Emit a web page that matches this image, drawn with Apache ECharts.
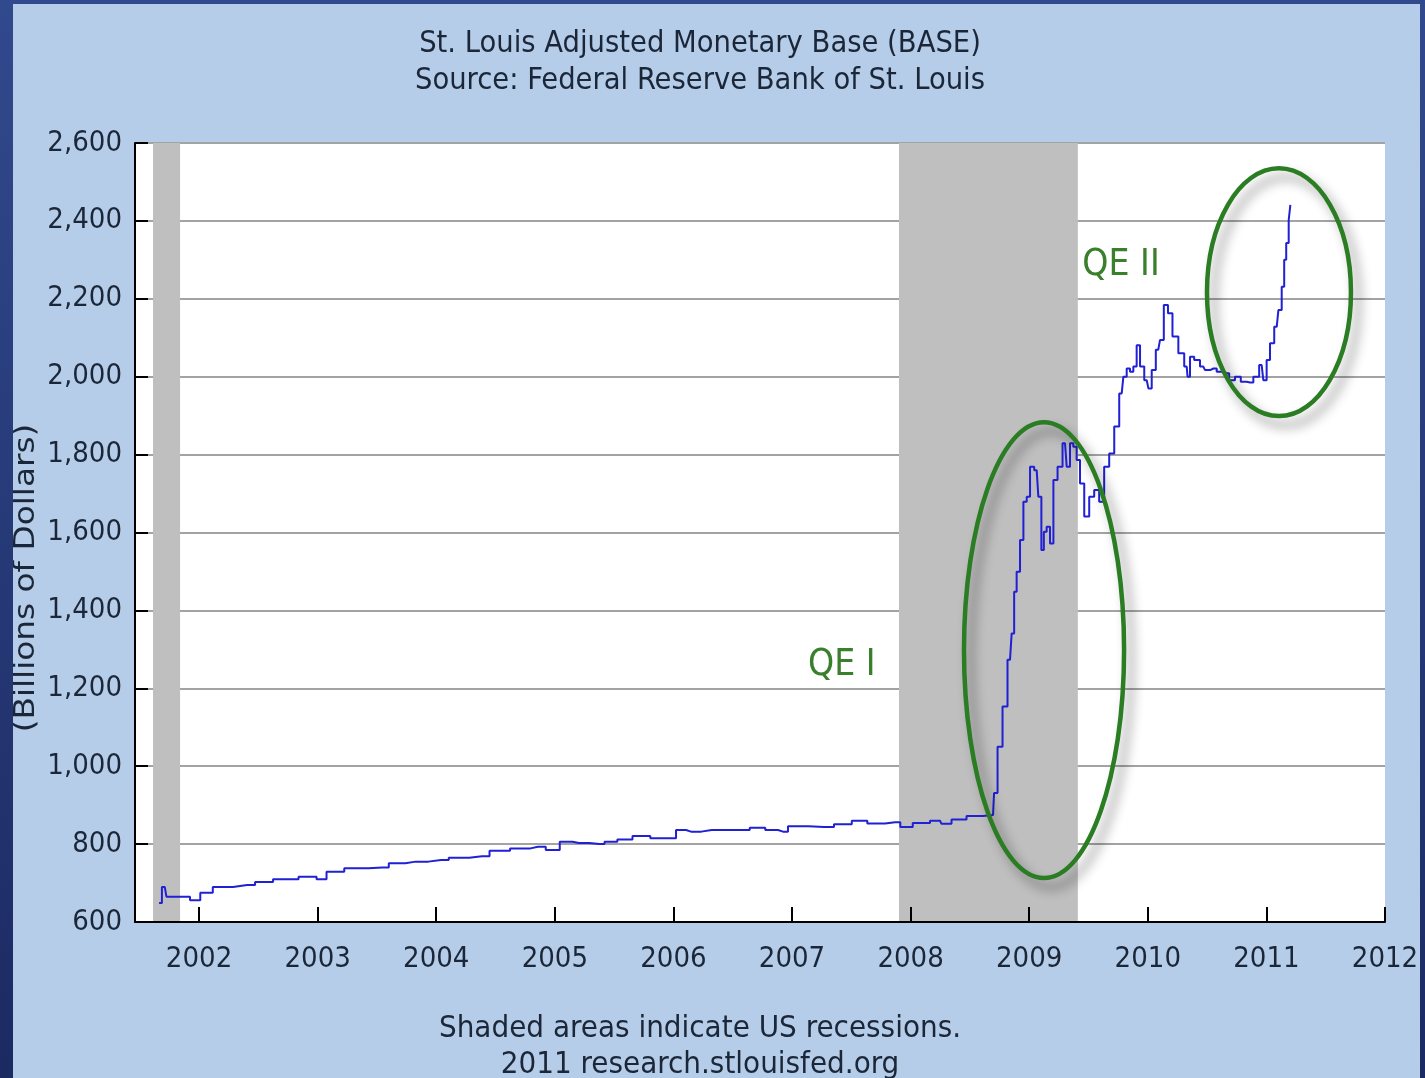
<!DOCTYPE html>
<html>
<head>
<meta charset="utf-8">
<script src="https://cdn.jsdelivr.net/npm/echarts@6/dist/echarts.min.js"></script>
<style>
  html, body { margin: 0; padding: 0; width: 1425px; height: 1078px; overflow: hidden;
    background: linear-gradient(#31498d, #1c2a62); }
  #chart { position: absolute; left: 13px; top: 4px; width: 1407px; height: 1074px; }
</style>
</head>
<body>
<div id="chart"></div>
<script>
// ---- Data (decimal years, billions of dollars) ----
const years = [
  2001.663, 2001.711, 2001.739, 2001.890, 2001.958, 2002.063, 2002.169, 2002.405, 2002.540, 2002.708,
  2002.970, 2003.012, 2003.138, 2003.311, 2003.547, 2003.653, 2003.827, 2004.040, 2004.171, 2004.386,
  2004.513, 2004.732, 2004.858, 2004.989, 2005.094, 2005.204, 2005.376, 2005.462, 2005.592, 2005.718,
  2005.892, 2005.980, 2006.064, 2006.148, 2006.322, 2006.578, 2006.709, 2006.840, 2006.924, 2007.008,
  2007.270, 2007.438, 2007.570, 2007.700, 2007.869, 2007.957, 2008.079, 2008.248, 2008.273, 2008.417,
  2008.526, 2008.695, 2008.712, 2008.754, 2008.796, 2008.838, 2008.866, 2008.880, 2008.908, 2008.937,
  2008.965, 2008.993, 2009.021, 2009.063, 2009.091, 2009.114, 2009.133, 2009.161, 2009.190, 2009.218,
  2009.260, 2009.302, 2009.330, 2009.358, 2009.386, 2009.414, 2009.443, 2009.485, 2009.527, 2009.569,
  2009.611, 2009.653, 2009.696, 2009.738, 2009.780, 2009.808, 2009.836, 2009.864, 2009.892, 2009.920,
  2009.949, 2009.991, 2010.019, 2010.047, 2010.088, 2010.117, 2010.153, 2010.187, 2010.229, 2010.286,
  2010.328, 2010.342, 2010.370, 2010.412, 2010.468, 2010.497, 2010.553, 2010.609, 2010.665, 2010.707,
  2010.763, 2010.805, 2010.862, 2010.918, 2010.960, 2010.988, 2011.016, 2011.045, 2011.087, 2011.115,
  2011.143, 2011.157, 2011.177, 2011.199, 2011.205
];
const baseValues = [
  649, 690, 665, 665, 656, 675, 690, 695, 703, 710,
  716, 710, 729, 738, 740, 751, 755, 759, 765, 769,
  783, 789, 793, 785, 806, 803, 800, 806, 812, 821,
  815, 815, 836, 832, 836, 836, 842, 836, 832, 846,
  844, 851, 860, 853, 856, 844, 854, 860, 852, 863,
  872, 875, 931, 1050, 1153, 1273, 1341, 1448, 1499, 1581,
  1679, 1692, 1769, 1760, 1692, 1555, 1602, 1615, 1572, 1735,
  1769, 1829, 1769, 1829, 1820, 1786, 1726, 1641, 1692, 1709,
  1679, 1769, 1803, 1872, 1957, 2000, 2021, 2013, 2026, 2081,
  2026, 1991, 1970, 2017, 2069, 2094, 2184, 2163, 2103, 2060,
  2026, 2000, 2051, 2043, 2026, 2017, 2021, 2013, 2009, 1991,
  2000, 1987, 1985, 2000, 2030, 1991, 2043, 2086, 2128, 2171,
  2231, 2300, 2343, 2402, 2441
];
// Recessions (decimal year start / end)
const recessionStart = [2001.612, 2007.902];
const recessionEnd   = [2001.840, 2009.410];
// Axis ticks
const xTicks = [2002, 2003, 2004, 2005, 2006, 2007, 2008, 2009, 2010, 2011, 2012];
const xMin = 2001.46, xMax = 2012;
const yMin = 600, yMax = 2600, yStep = 200;
// Annotations: ellipse centre (year, value) and radii (years, value units)
const ellipseCx = [2009.125, 2011.106];
const ellipseCy = [1298, 2217];
const ellipseRx = [0.675, 0.607];
const ellipseRy = [585, 318];
const noteText = ['QE I', 'QE II'];
const noteX = [2007.42, 2009.774];
const noteY = [1258, 2287];

const lineData = years.map((y, i) => [y, baseValues[i]]);
const recAreas = recessionStart.map((s, i) => [{ xAxis: s, yAxis: yMin }, { xAxis: recessionEnd[i], yAxis: yMax }]);
const ellipseData = ellipseCx.map((c, i) => [c, ellipseCy[i], ellipseRx[i], ellipseRy[i]]);
const noteData = noteText.map((t, i) => [noteX[i], noteY[i], t]);

const FONT = '"DejaVu Sans Condensed", "DejaVu Sans", sans-serif';
const NARROW = '"Liberation Sans Narrow", "DejaVu Sans Condensed", sans-serif';
const TXT = '#1b2738';

const chart = echarts.init(document.getElementById('chart'), null, { renderer: 'canvas' });
chart.setOption({
  animation: false,
  backgroundColor: '#b5cde8',
  grid: { left: 122, top: 139, right: 35, bottom: 156, show: true, backgroundColor: '#ffffff', borderWidth: 0,
    containLabel: false, outerBoundsMode: 'none' },
  graphic: [
    { type: 'text', x: 687, y: 22, style: { text: 'St. Louis Adjusted Monetary Base (BASE)\nSource: Federal Reserve Bank of St. Louis',
      align: 'center', verticalAlign: 'top', font: '30.5px ' + FONT, lineHeight: 37, fill: TXT } },
    { type: 'text', x: 687, y: 1007, style: { text: 'Shaded areas indicate US recessions.\n2011 research.stlouisfed.org',
      align: 'center', verticalAlign: 'top', font: '31px ' + FONT, lineHeight: 36, fill: TXT } },
    { type: 'text', x: 14, y: 574, rotation: Math.PI / 2, scaleX: 1.3, style: { text: '(Billions of Dollars)',
      align: 'center', verticalAlign: 'middle', font: '28px ' + FONT, fill: TXT } }
  ],
  xAxis: {
    type: 'value', min: xMin, max: xMax, z: 5,
    axisLine: { show: true, onZero: false, lineStyle: { color: '#000', width: 2 } },
    axisTick: { show: true, inside: true, length: 15, customValues: xTicks, lineStyle: { color: '#000', width: 2 } },
    axisLabel: { customValues: xTicks, margin: 23, fontFamily: FONT, fontSize: 29, color: TXT, formatter: v => String(Math.round(v)) },
    splitLine: { show: false }
  },
  yAxis: {
    type: 'value', min: yMin, max: yMax, interval: yStep, z: 0,
    axisLine: { show: true, lineStyle: { color: '#000', width: 2 } },
    axisTick: { show: true, inside: true, length: 13, lineStyle: { color: '#000', width: 2 } },
    axisLabel: { margin: 13, fontFamily: FONT, fontSize: 29, color: TXT,
      formatter: v => v.toLocaleString('en-US') },
    splitLine: { show: true, lineStyle: { color: '#a3a3a3', width: 2 } }
  },
  series: [
    {
      type: 'line', name: 'recessions', data: [], z: 1, silent: true,
      markArea: { silent: true, itemStyle: { color: '#bfbfbf', opacity: 1 }, data: recAreas }
    },
    {
      type: 'line', name: 'BASE', data: lineData, z: 3, showSymbol: false, symbol: 'none', step: 'middle',
      lineStyle: { color: '#2020d4', width: 2 }
    },
    {
      type: 'custom', name: 'ellipses', data: ellipseData, z: 6, silent: true,
      renderItem: (params, api) => {
        const cx = api.value(0), cy = api.value(1), rx = api.value(2), ry = api.value(3);
        const c = api.coord([cx, cy]);
        const e = api.coord([cx + rx, cy + ry]);
        return {
          type: 'ellipse',
          shape: { cx: c[0], cy: c[1], rx: Math.abs(e[0] - c[0]), ry: Math.abs(c[1] - e[1]) },
          style: { fill: null, stroke: '#2a7d22', lineWidth: 4.5,
            shadowBlur: 12, shadowColor: 'rgba(0,0,0,0.45)', shadowOffsetX: 7, shadowOffsetY: 9 }
        };
      }
    },
    {
      type: 'custom', name: 'notes', data: noteData, z: 6, silent: true,
      renderItem: (params, api) => {
        const p = api.coord([api.value(0), api.value(1)]);
        return {
          type: 'text', x: p[0], y: p[1],
          style: { text: noteText[params.dataIndex], align: 'center', verticalAlign: 'middle',
            font: '37px ' + NARROW, fill: '#3a7f2c' }
        };
      }
    }
  ]
});
</script>
</body>
</html>
